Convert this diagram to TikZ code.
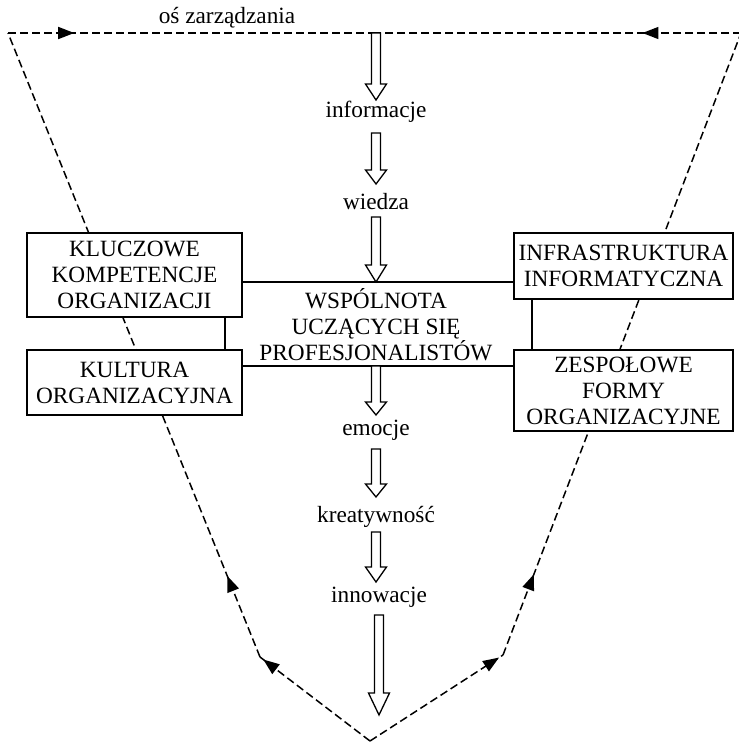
\documentclass[tikz,border=0pt]{standalone}
\usepackage{fontspec}
\setmainfont{Liberation Serif}
\usetikzlibrary{arrows.meta,decorations.markings,calc}

% hollow block arrow: shaft from #1 down to tip #2, head length #3
\newcommand{\hollowarrow}[3]{%
  \draw[hollow] let \p1=(#1), \p2=(#2) in
    (\x1-4.5pt,\y1) -- (\x1-4.5pt,\y2+#3) -- (\x1-10.5pt,\y2+#3) -- (\x2,\y2)
    -- (\x1+10.5pt,\y2+#3) -- (\x1+4.5pt,\y2+#3) -- (\x1+4.5pt,\y1) -- cycle;}

\tikzset{
  dline/.style={line width=1.5pt, dash pattern=on 8pt off 4pt},
  flow/.style={postaction={decorate},
    decoration={markings, mark=at position #1 with {\arrow{Triangle[length=16pt,width=12pt]}}}},
  hollow/.style={line width=1.3pt, fill=white, line join=miter},
  box/.style={draw, line width=1.6pt, fill=white, align=center, inner sep=2pt},
  lbl/.style={align=center, inner sep=1pt},
  link/.style={line width=1.5pt},
}

\begin{document}
\begin{tikzpicture}[x=1pt, y=-1pt, font=\fontsize{23.3}{26}\selectfont]
\useasboundingbox[fill=white] (0,0) rectangle (739,742);

% corners of the management axis
\coordinate (TL) at (8,33);
\coordinate (TR) at (741,33);
\coordinate (BL) at (260,657);
\coordinate (BR) at (503,655);
\coordinate (apex) at (370,741);
\coordinate (top) at (376,33);

% dashed management axis
\draw[dline, flow=0.97] (apex) -- (BL);
\draw[dline, flow=0.13] (BL) -- (TL);
\draw[dline, flow=0.18] (TL) -- (top);
\draw[dline, flow=0.97] (apex) -- (BR);
\draw[dline, flow=0.13] (BR) -- (TR);
\draw[dline, flow=0.27] (TR) -- (top);

\node[lbl] (axis) at (227,18) {oś zarządzania};

% central chain of texts
\node[lbl] (info) at (376,112) {informacje};
\node[lbl] (know) at (376,202) {wiedza};
\node[lbl] (comm) at (376,325) {WSPÓLNOTA\\UCZĄCYCH SIĘ\\PROFESJONALISTÓW};
\node[lbl] (emo) at (376,430) {emocje};
\node[lbl] (crea) at (376,517) {kreatywność};
\node[lbl] (inno) at (379,597) {innowacje};

% side boxes
\node[box, minimum width=215pt, minimum height=84pt] (comp) at (134.5,275) {KLUCZOWE\\KOMPETENCJE\\ORGANIZACJI};
\node[box, minimum width=215pt, minimum height=65pt] (cult) at (134.5,382.5) {KULTURA\\ORGANIZACYJNA};
\node[box, minimum width=219pt, minimum height=66pt] (infra) at (623.5,266) {INFRASTRUKTURA\\INFORMATYCZNA};
\node[box, minimum width=219pt, minimum height=81pt] (team) at (623.5,390.5) {ZESPOŁOWE\\FORMY\\ORGANIZACYJNE};

% links between the boxes
\coordinate (upper) at (376,282);
\coordinate (lower) at (376,366);
\draw[link] (comp.east |- upper) -- (infra.west |- upper);
\draw[link] (cult.east |- lower) -- (team.west |- lower);
\draw[link] ([xshift=90.5pt]comp.south) -- ([xshift=90.5pt]cult.north);
\draw[link] ([xshift=-91.5pt]infra.south) -- ([xshift=-91.5pt]team.north);

% hollow arrows along the chain
\coordinate (s1) at (376,33);  \coordinate (t1) at (376,100);
\coordinate (s2) at (376,133); \coordinate (t2) at (376,184);
\coordinate (s3) at (376,217); \coordinate (t3) at (376,282);
\coordinate (s4) at (376,366); \coordinate (t4) at (376,415);
\coordinate (s5) at (376,449); \coordinate (t5) at (376,497);
\coordinate (s6) at (376,532); \coordinate (t6) at (376,582);
\coordinate (s7) at (379,615); \coordinate (t7) at (379,715);
\hollowarrow{s1}{t1}{16pt}
\hollowarrow{s2}{t2}{14pt}
\hollowarrow{s3}{t3}{17pt}
\hollowarrow{s4}{t4}{13pt}
\hollowarrow{s5}{t5}{13pt}
\hollowarrow{s6}{t6}{15pt}
\hollowarrow{s7}{t7}{22pt}
\end{tikzpicture}
\end{document}
